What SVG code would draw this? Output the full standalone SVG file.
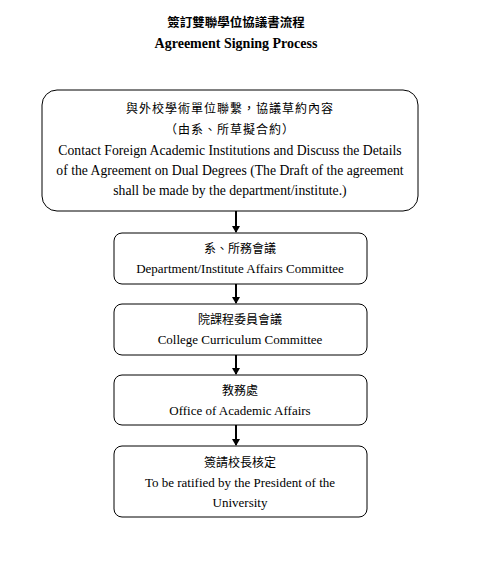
<svg xmlns="http://www.w3.org/2000/svg" width="488" height="577" viewBox="0 0 488 577">
<style>
.box{fill:#fff;stroke:#000;stroke-width:1}
.t{font-family:"Liberation Serif","Noto Sans CJK TC",serif;font-size:13px;text-anchor:middle;fill:#000}
.c{font-family:"Noto Sans CJK TC","Liberation Serif",serif;font-size:12px;text-anchor:middle;fill:#000}
.ln{stroke:#000;stroke-width:2;fill:none}
</style>
<defs>
<marker id="ah" markerWidth="8" markerHeight="8" refX="6" refY="4" orient="auto" markerUnits="userSpaceOnUse">
<path d="M0,0 L7,4 L0,8 Z" fill="#000"/>
</marker>
</defs>
<rect width="488" height="577" fill="#fff"/>
<g id="title">
<text class="c" x="236" y="27" style="font-weight:bold;font-size:12.5px">簽訂雙聯學位協議書流程</text>
<text class="t" x="236" y="48" style="font-weight:bold;font-size:14px">Agreement Signing Process</text>
</g>
<g id="connectors">
<line class="ln" x1="236" y1="211" x2="236" y2="232" marker-end="url(#ah)"/>
<line class="ln" x1="236" y1="284" x2="236" y2="303" marker-end="url(#ah)"/>
<line class="ln" x1="236" y1="355" x2="236" y2="374" marker-end="url(#ah)"/>
<line class="ln" x1="236" y1="425" x2="236" y2="445" marker-end="url(#ah)"/>
</g>
<g id="n1">
<rect class="box" x="42" y="90" width="376" height="121" rx="15"/>
<text class="c" x="230" y="113" style="letter-spacing:1px">與外校學術單位聯繫，協議草約內容</text>
<text class="c" x="230" y="134" style="letter-spacing:1px">（由系、所草擬合約）</text>
<text class="t" x="230" y="155" style="font-size:13.7px">Contact Foreign Academic Institutions and Discuss the Details</text>
<text class="t" x="230" y="175" style="font-size:13.7px">of the Agreement on Dual Degrees (The Draft of the agreement</text>
<text class="t" x="230" y="195" style="font-size:13.7px">shall be made by the department/institute.)</text>
</g>
<g id="n2">
<rect class="box" x="114" y="233" width="253" height="51" rx="8"/>
<text class="c" x="240" y="253">系、所務會議</text>
<text class="t" x="240" y="273">Department/Institute Affairs Committee</text>
</g>
<g id="n3">
<rect class="box" x="114" y="304" width="253" height="51" rx="8"/>
<text class="c" x="240" y="324">院課程委員會議</text>
<text class="t" x="240" y="344">College Curriculum Committee</text>
</g>
<g id="n4">
<rect class="box" x="114" y="375" width="253" height="50" rx="8"/>
<text class="c" x="240" y="395">教務處</text>
<text class="t" x="240" y="415">Office of Academic Affairs</text>
</g>
<g id="n5">
<rect class="box" x="114" y="446" width="253" height="71" rx="8"/>
<text class="c" x="240" y="467">簽請校長核定</text>
<text class="t" x="240" y="487">To be ratified by the President of the</text>
<text class="t" x="240" y="507">University</text>
</g>
</svg>
